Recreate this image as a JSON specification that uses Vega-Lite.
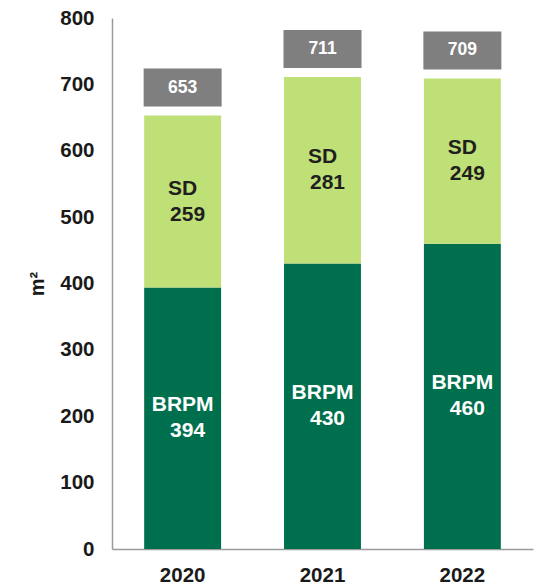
{
  "$schema": "https://vega.github.io/schema/vega-lite/v6.json",
  "description": "Stacked bars of BRPM and SD area (m²) per year, with totals in grey boxes.",
  "autosize": "none",
  "width": 421,
  "height": 531,
  "padding": {"left": 112, "top": 18, "right": 9, "bottom": 35},
  "config": {
    "font": "Liberation Sans",
    "view": {"stroke": null},
    "axis": {"labelFontWeight": "bold", "labelColor": "#1a1a1a", "domainColor": "#9a9a9a", "domainWidth": 1.5, "ticks": false, "grid": false}
  },
  "data": {
    "values": [
      {"year": "2020", "category": "BRPM", "value": 394},
      {"year": "2020", "category": "SD", "value": 259},
      {"year": "2021", "category": "BRPM", "value": 430},
      {"year": "2021", "category": "SD", "value": 281},
      {"year": "2022", "category": "BRPM", "value": 460},
      {"year": "2022", "category": "SD", "value": 249}
    ]
  },
  "transform": [
    {"stack": "value", "groupby": ["year"], "sort": [{"field": "category", "order": "ascending"}], "as": ["v0", "v1"]}
  ],
  "encoding": {
    "x": {
      "field": "year",
      "type": "ordinal",
      "title": null,
      "scale": {"paddingInner": 0.45, "paddingOuter": 0.23},
      "axis": {"labelAngle": 0, "labelFontSize": 20.5, "labelPadding": 16}
    }
  },
  "layer": [
    {
      "mark": {"type": "bar"},
      "encoding": {
        "y": {
          "field": "v0",
          "type": "quantitative",
          "title": "m²",
          "scale": {"domain": [0, 800], "nice": false},
          "axis": {"values": [0, 100, 200, 300, 400, 500, 600, 700, 800], "labelFontSize": 20.5, "labelPadding": 18, "titleFontSize": 20, "titleFontWeight": "bold", "titleColor": "#1a1a1a", "titlePadding": 12}
        },
        "y2": {"field": "v1"},
        "color": {
          "field": "category",
          "type": "nominal",
          "scale": {"domain": ["BRPM", "SD"], "range": ["#006F4E", "#BFE077"]},
          "legend": null
        }
      }
    },
    {
      "transform": [
        {"fold": ["v0", "v1"], "as": ["edge", "pos"]},
        {"aggregate": [{"op": "mean", "field": "pos", "as": "mid"}], "groupby": ["year", "category", "value"]}
      ],
      "layer": [
        {
          "mark": {"type": "text", "fontSize": 21, "fontWeight": "bold", "baseline": "middle", "dy": -13},
          "encoding": {
            "y": {"field": "mid", "type": "quantitative"},
            "text": {"field": "category"},
            "color": {"condition": {"test": "datum.category === 'BRPM'", "value": "white"}, "value": "#1f1f1f"}
          }
        },
        {
          "mark": {"type": "text", "fontSize": 21, "fontWeight": "bold", "baseline": "middle", "dy": 13, "dx": 5},
          "encoding": {
            "y": {"field": "mid", "type": "quantitative"},
            "text": {"field": "value"},
            "color": {"condition": {"test": "datum.category === 'BRPM'", "value": "white"}, "value": "#1f1f1f"}
          }
        }
      ]
    },
    {
      "transform": [{"aggregate": [{"op": "sum", "field": "value", "as": "total"}], "groupby": ["year"]}],
      "layer": [
        {
          "mark": {"type": "point", "shape": "M-1,-0.4872H1V0.4872H-1Z", "size": 6084, "filled": true, "opacity": 1, "color": "#7F7F7F", "yOffset": -28},
          "encoding": {
            "y": {"field": "total", "type": "quantitative"}
          }
        },
        {
          "mark": {"type": "text", "fontSize": 17.5, "fontWeight": "bold", "color": "white", "baseline": "middle", "yOffset": -28},
          "encoding": {
            "y": {"field": "total", "type": "quantitative"},
            "text": {"field": "total"}
          }
        }
      ]
    }
  ]
}
